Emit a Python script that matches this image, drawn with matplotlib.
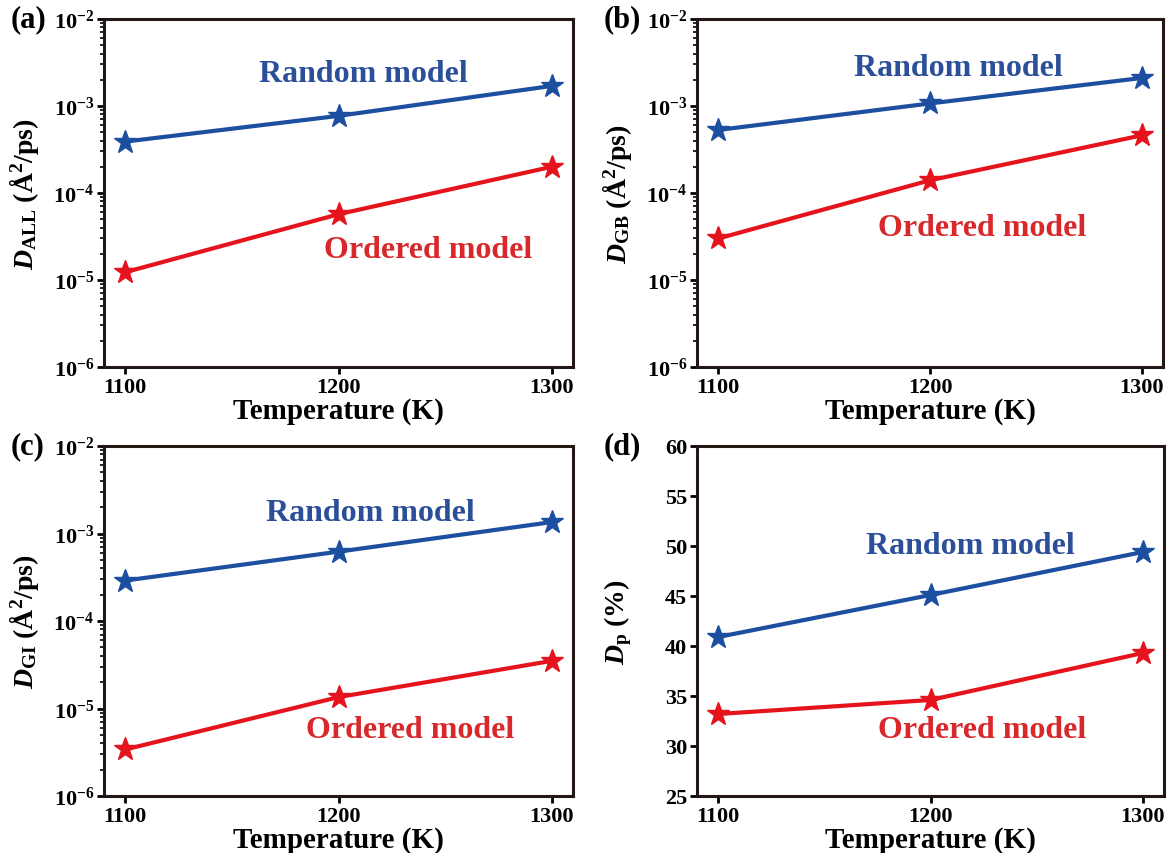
import numpy as np
import matplotlib
matplotlib.use('Agg')
import matplotlib.pyplot as plt

plt.rcParams['font.family'] = ['Liberation Serif', 'DejaVu Serif']
plt.rcParams['font.weight'] = 'bold'
plt.rcParams['mathtext.fontset'] = 'custom'
plt.rcParams['mathtext.rm'] = 'Liberation Serif:bold'
plt.rcParams['mathtext.bf'] = 'Liberation Serif:bold'
plt.rcParams['mathtext.it'] = 'Liberation Serif:bold:italic'

# temperatures (K)
temps = [1100, 1200, 1300]

# (a) D_ALL
all_random = [3.9e-4, 7.7e-4, 1.7e-3]
all_ordered = [1.23e-5, 5.7e-5, 2.0e-4]
# (b) D_GB
gb_random = [5.3e-4, 1.07e-3, 2.1e-3]
gb_ordered = [3.0e-5, 1.4e-4, 4.6e-4]
# (c) D_GI
gi_random = [2.9e-4, 6.2e-4, 1.35e-3]
gi_ordered = [3.4e-6, 1.35e-5, 3.5e-5]
# (d) D_p (%)
p_random = [40.9, 45.1, 49.4]
p_ordered = [33.2, 34.6, 39.3]

blue = '#1d4fa0'
red = '#e5141c'
blue_txt = '#2b4f98'
red_txt = '#d8282c'

W, H = 1169, 854
fig = plt.figure(figsize=(W / 100, H / 100), dpi=100)

def px_axes(l, r, t, b):
    return fig.add_axes([l / W, 1 - b / H, (r - l) / W, (b - t) / H])

ax_a = px_axes(104, 573, 20, 368)
ax_b = px_axes(697, 1163, 20, 368)
ax_c = px_axes(104, 573, 447, 797)
ax_d = px_axes(697, 1164, 447, 797)

# label positions in axes fraction: (random_xy, ordered_xy)
panels = [
    (ax_a, all_random, all_ordered, r'$D_{\mathrm{ALL}}$ (Å$^{2}$/ps)', '(a)', True,
     (0.552, 0.842), (0.691, 0.339)),
    (ax_b, gb_random, gb_ordered, r'$D_{\mathrm{GB}}$ (Å$^{2}$/ps)', '(b)', True,
     (0.560, 0.862), (0.612, 0.402)),
    (ax_c, gi_random, gi_ordered, r'$D_{\mathrm{GI}}$ (Å$^{2}$/ps)', '(c)', True,
     (0.567, 0.809), (0.652, 0.189)),
    (ax_d, p_random, p_ordered, r'$D_{\mathrm{p}}$ (%)', '(d)', False,
     (0.585, 0.717), (0.610, 0.189)),
]

for ax, rnd, ordd, ylab, tag, logy, rpos, opos in panels:
    ax.plot(temps, rnd, color=blue, lw=3, marker='*', ms=17, mec=blue, zorder=3)
    ax.plot(temps, ordd, color=red, lw=3, marker='*', ms=17, mec=red, zorder=3)
    ax.set_xlim(1090, 1310)
    ax.set_xticks(temps)
    if logy:
        ax.set_yscale('log')
        ax.set_ylim(1e-6, 1e-2)
    else:
        ax.set_ylim(25, 60)
        ax.set_yticks(np.arange(25, 61, 5))
    ax.tick_params(axis='both', which='major', direction='out', length=5, width=2,
                   labelsize=16, pad=2, top=False, right=False)
    ax.tick_params(axis='y', which='minor', direction='out', length=3, width=1.2, right=False)
    for s in ax.spines.values():
        s.set_linewidth(2.2)
        s.set_color('#231815')
    ax.set_xlabel('Temperature (K)', fontsize=21, fontweight='bold', labelpad=0)
    ax.set_ylabel(ylab, fontsize=20, fontweight='bold')
    ax.yaxis.set_label_coords(-0.135, 0.5)
    ax.text(rpos[0], rpos[1], 'Random model', transform=ax.transAxes, color=blue_txt,
            fontsize=23, fontweight='bold', ha='center', va='center')
    ax.text(opos[0], opos[1], 'Ordered model', transform=ax.transAxes, color=red_txt,
            fontsize=23, fontweight='bold', ha='center', va='center')
    ax.text(-0.2, 1.0, tag, transform=ax.transAxes, fontsize=22,
            fontweight='bold', ha='left', va='center')

fig.savefig('out.png', dpi=100)
